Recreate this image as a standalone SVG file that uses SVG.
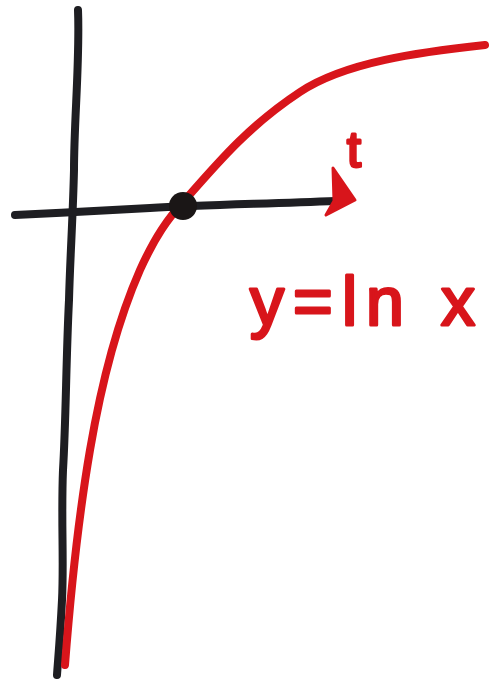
<svg xmlns="http://www.w3.org/2000/svg" width="496" height="683" viewBox="0 0 496 683">
<style>
.blk{fill:none;stroke:#1e1e22;stroke-width:8;stroke-linecap:round;stroke-linejoin:round}
.red{fill:none;stroke:#d8151b;stroke-width:8;stroke-linecap:round;stroke-linejoin:round}
.lbl{font-family:"Liberation Sans",Arial,sans-serif;fill:#d8151b;stroke:#d8151b;stroke-width:3;stroke-linejoin:round}
</style>
<rect width="496" height="683" fill="#ffffff"/>
<g id="connectors">
<path id="y-axis" class="blk" d="M78,10 C80,60 74,120 74,170 C73,215 70,260 69,300 C66,360 66,420 63,470 C61,520 64,560 62,600 C60,640 58,660 57,675"/>
<path id="t-axis" class="blk" d="M15,215 C60,213 110,210 150,208 C200,205 260,204 336,201"/>
<polygon id="arrowhead" points="333,168 355,200 326,215 334,201" fill="#d8151b" stroke="#d8151b" stroke-width="3" stroke-linejoin="round"/>
<path id="ln-curve" class="red" d="M65,665 C70,600 78,520 90,450 C102,380 118,320 140,270 C155,237 168,218 185,200 C220,160 250,125 300,92 C345,62 420,52 485,45"/>
</g>
<g id="point">
<circle cx="183" cy="206" r="14" fill="#1a1616"/>
</g>
<g id="label-t">
<text class="lbl" x="347" y="167" font-size="50">t</text>
</g>
<g id="label-eq">
<text class="lbl" x="250" y="325" font-size="68" textLength="225" lengthAdjust="spacing">y=ln x</text>
</g>
</svg>
